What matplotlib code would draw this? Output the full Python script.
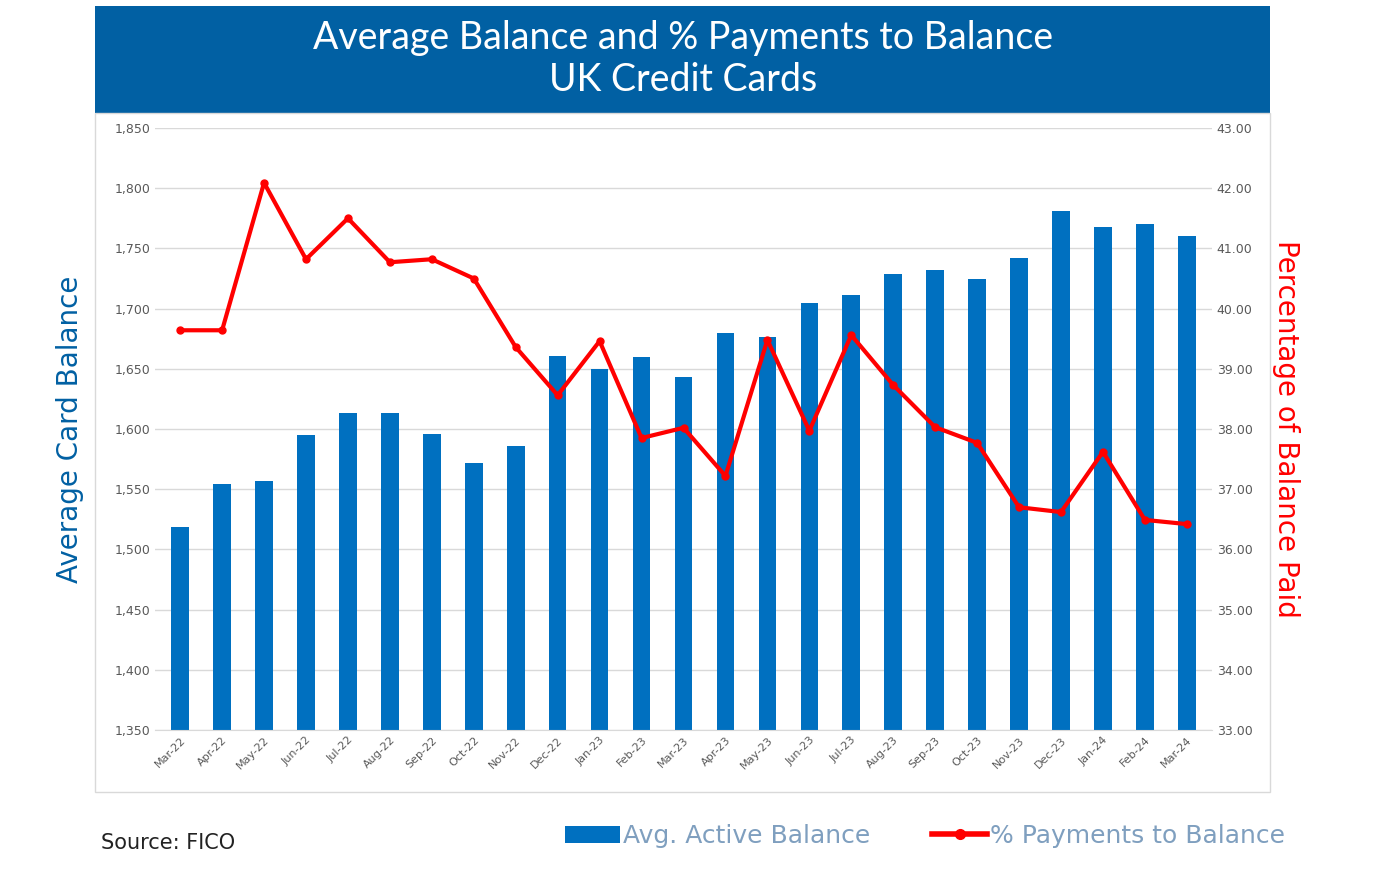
import matplotlib.pyplot as plt
from matplotlib.patches import Rectangle
from matplotlib.lines import Line2D
from matplotlib.patches import Patch

months = ["Mar-22", "Apr-22", "May-22", "Jun-22", "Jul-22", "Aug-22", "Sep-22", "Oct-22", "Nov-22",
          "Dec-22", "Jan-23", "Feb-23", "Mar-23", "Apr-23", "May-23", "Jun-23", "Jul-23", "Aug-23",
          "Sep-23", "Oct-23", "Nov-23", "Dec-23", "Jan-24", "Feb-24", "Mar-24"]
balance = [1519, 1554, 1557, 1595, 1613, 1613, 1596, 1572, 1586, 1661, 1650, 1660, 1643, 1680,
           1676, 1705, 1711, 1729, 1732, 1725, 1742, 1781, 1768, 1770, 1760]
pct_paid = [39.64, 39.64, 42.09, 40.82, 41.5, 40.77, 40.82, 40.5, 39.36, 38.56, 39.46, 37.85,
            38.02, 37.22, 39.48, 37.97, 39.56, 38.73, 38.03, 37.77, 36.7, 36.62, 37.62, 36.49, 36.42]

W, H = 1384, 892
fig = plt.figure(figsize=(W / 100, H / 100), dpi=100)
fig.patch.set_facecolor("white")

# title banner
fig.patches.append(Rectangle((95 / W, 1 - 113 / H), 1175 / W, 107 / H, transform=fig.transFigure,
                             facecolor="#0160A3", edgecolor="none"))
fig.text(683 / W, 1 - 38 / H, "Average Balance and % Payments to Balance", color="white",
         fontsize=27, ha="center", va="center", family="Lato")
fig.text(683 / W, 1 - 80 / H, "UK Credit Cards", color="white",
         fontsize=27, ha="center", va="center", family="Lato")
# chart frame
fig.patches.append(Rectangle((95 / W, 1 - 792 / H), 1175 / W, 679 / H, transform=fig.transFigure,
                             facecolor="none", edgecolor="#d9d9d9", lw=1))

ax = fig.add_axes([155 / W, 1 - 730 / H, 1057 / W, 602 / H])
x = range(len(months))
ax.bar(x, balance, width=0.42, color="#0070C0", zorder=2)
ax.set_ylim(1350, 1850)
ax.set_yticks(range(1350, 1851, 50))
ax.set_yticklabels([f"{v:,}" for v in range(1350, 1851, 50)], fontsize=9, color="#595959")
ax.set_xlim(-0.6, len(months) - 0.4)
ax.set_xticks(list(x))
ax.set_xticklabels(months, rotation=45, ha="right", rotation_mode="anchor", fontsize=8, color="#595959")
ax.grid(axis="y", color="#d9d9d9", lw=1, zorder=0)
for s in ax.spines.values():
    s.set_visible(False)
ax.spines["bottom"].set_visible(True)
ax.spines["bottom"].set_color("#d9d9d9")
ax.tick_params(length=0)
ax.set_ylabel("Average Card Balance", fontsize=20, color="#0160A3", labelpad=22)

ax2 = ax.twinx()
ax2.plot(x, pct_paid, color="#FF0000", lw=3, marker="o", markersize=5, zorder=3)
ax2.set_ylim(33, 43)
ax2.set_yticks(range(33, 44))
ax2.set_yticklabels([f"{v:.2f}" for v in range(33, 44)], fontsize=9, color="#595959")
for s in ax2.spines.values():
    s.set_visible(False)
ax2.tick_params(length=0)
ax2.set_ylabel("Percentage of Balance Paid", fontsize=20, color="#FF0000", rotation=270, labelpad=34)

fig.text(101 / W, 1 - 843 / H, "Source: FICO", fontsize=15, va="center", color="#222222")
handles = [Patch(facecolor="#0070C0", label="Avg. Active Balance"),
           Line2D([], [], color="#FF0000", lw=4, marker="o", markersize=7, label="% Payments to Balance")]
fig.legend(handles=handles, loc="center", bbox_to_anchor=(925 / W, 1 - 836 / H), ncol=2, frameon=False,
           fontsize=18, labelcolor="#7f9fbf", handlelength=2.2, handletextpad=0.1, columnspacing=2.5)

fig.savefig("out.png", dpi=100)
